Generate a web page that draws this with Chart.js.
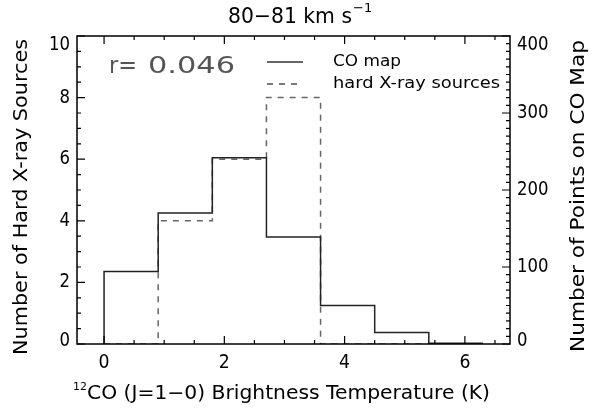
<!DOCTYPE html>
<html>
<head>
<meta charset="utf-8">
<script src="https://cdn.jsdelivr.net/npm/chart.js@4.4.1/dist/chart.umd.min.js"></script>
<style>
  html, body { margin: 0; padding: 0; background: #fff; }
  #wrap { width: 609px; height: 415px; }
</style>
</head>
<body>
<div id="wrap"><canvas id="hist-chart" width="609" height="415"></canvas></div>
<script>
// histogram bins (K) and counts
const binEdges = [0, 0.9, 1.8, 2.7, 3.6, 4.5, 5.4, 6.3];
const coCounts = [94, 170, 242, 139, 50, 15, 1];      // right axis
const xrayCounts = [0, 4, 6, 8, 0, 0, 0];            // left axis
const xTicks = [0, 2, 4, 6];
const yTicks = [0, 2, 4, 6, 8, 10];
const y1Ticks = [0, 100, 200, 300, 400];
const corrLabel = 'r=';
const corrValue = '0.046';

const FONT = '"DejaVu Sans", sans-serif';

// turn bin counts into step points (psym=10 style)
function stepPoints(edges, counts) {
  const pts = [{ x: edges[0], y: 0 }];
  counts.forEach((c, i) => pts.push({ x: edges[i], y: c }));
  pts.push({ x: edges[edges.length - 1], y: counts[counts.length - 1] });
  return pts;
}

function setTicks(values) {
  return (scale) => { scale.ticks = values.map((v) => ({ value: v })); };
}

// draw text stretched to a given width (hershey font is wide)
function fitText(ctx, text, x, y, width, align) {
  const w = ctx.measureText(text).width;
  const sx = width / w;
  ctx.save();
  ctx.textAlign = 'left';
  let left = x;
  if (align === 'center') left = x - width / 2;
  ctx.translate(left, y);
  ctx.scale(sx, 1);
  ctx.fillText(text, 0, 0);
  ctx.restore();
}

const frameAndText = {
  id: 'frameAndText',
  afterDatasetsDraw(chart) {
    const { ctx, chartArea: a, scales } = chart;
    const x = scales.x, y = scales.y, y1 = scales.y1;
    ctx.save();
    ctx.strokeStyle = '#000';
    ctx.lineWidth = 1.5;
    ctx.strokeRect(a.left, a.top, a.right - a.left, a.bottom - a.top);

    ctx.lineWidth = 1.2;
    ctx.beginPath();
    // bottom + top ticks
    for (let v = 0; v <= 6.75; v += 0.5) {
      const px = x.getPixelForValue(v);
      const len = (Math.abs(v % 2) < 1e-6) ? 8 : 4;
      ctx.moveTo(px, a.bottom); ctx.lineTo(px, a.bottom - len);
      ctx.moveTo(px, a.top); ctx.lineTo(px, a.top + len);
    }
    // left ticks
    for (let v = 0; v <= 10; v += 0.5) {
      const py = y.getPixelForValue(v);
      const len = (v % 2 === 0) ? 8 : 4;
      ctx.moveTo(a.left, py); ctx.lineTo(a.left + len, py);
    }
    // right ticks
    for (let v = 0; v <= 400; v += 10) {
      const py = y1.getPixelForValue(v);
      const len = (v % 100 === 0) ? 8 : 4;
      ctx.moveTo(a.right, py); ctx.lineTo(a.right - len, py);
    }
    ctx.stroke();

    ctx.fillStyle = '#000';
    ctx.textBaseline = 'middle';
    ctx.font = '19px ' + FONT;
    // y tick labels, end labels pulled inside like IDL does
    const clampY = (p) => Math.min(Math.max(p, a.top + 9), a.bottom - 3);
    yTicks.forEach((v) => {
      const w = 10.5 * String(v).length;
      fitText(ctx, String(v), a.left - 7 - w, clampY(y.getPixelForValue(v)), w, 'left');
    });
    y1Ticks.forEach((v) => {
      fitText(ctx, String(v), a.right + 7, clampY(y1.getPixelForValue(v)), 10.5 * String(v).length, 'left');
    });
    xTicks.forEach((v) => {
      fitText(ctx, String(v), x.getPixelForValue(v), a.bottom + 19, 11, 'center');
    });

    // title with superscript
    ctx.textBaseline = 'alphabetic';
    ctx.font = '21px ' + FONT;
    fitText(ctx, '80\u221281 km s', 228, 23, 124, 'left');
    ctx.font = '13px ' + FONT;
    ctx.fillText('\u22121', 353, 12);

    // x axis title
    ctx.font = '11px ' + FONT;
    ctx.fillText('12', 73, 390);
    ctx.font = '19px ' + FONT;
    fitText(ctx, 'CO (J=1\u22120) Brightness Temperature (K)', 87, 399, 403, 'left');

    // y axis titles, both read bottom-to-top
    ctx.textBaseline = 'middle';
    ctx.font = '19px ' + FONT;
    ctx.save();
    ctx.translate(22, 197);
    ctx.rotate(-Math.PI / 2);
    fitText(ctx, 'Number of Hard X-ray Sources', 0, 0, 316, 'center');
    ctx.restore();
    ctx.save();
    ctx.translate(579, 196);
    ctx.rotate(-Math.PI / 2);
    fitText(ctx, 'Number of Points on CO Map', 0, 0, 312, 'center');
    ctx.restore();

    // correlation
    ctx.fillStyle = '#555';
    ctx.font = '23px ' + FONT;
    fitText(ctx, corrLabel, 109, 67, 28, 'left');
    fitText(ctx, corrValue, 148, 67, 87, 'left');

    // legend
    ctx.fillStyle = '#000';
    ctx.font = '16px ' + FONT;
    fitText(ctx, 'CO map', 333, 62, 68, 'left');
    fitText(ctx, 'hard X-ray sources', 333, 84, 167, 'left');
    ctx.strokeStyle = '#333';
    ctx.lineWidth = 1.3;
    ctx.beginPath();
    ctx.moveTo(267, 62); ctx.lineTo(303, 62);
    ctx.stroke();
    ctx.setLineDash([6, 6]);
    ctx.beginPath();
    ctx.moveTo(267, 84); ctx.lineTo(303, 84);
    ctx.stroke();
    ctx.restore();
  }
};

const ctx = document.getElementById('hist-chart').getContext('2d');
new Chart(ctx, {
  type: 'line',
  data: {
    datasets: [
      {
        label: 'CO map',
        data: stepPoints(binEdges, coCounts),
        yAxisID: 'y1',
        stepped: 'before',
        borderColor: '#222',
        borderWidth: 1.5,
        pointRadius: 0,
        fill: false,
      },
      {
        label: 'hard X-ray sources',
        data: stepPoints(binEdges, xrayCounts),
        yAxisID: 'y',
        stepped: 'before',
        borderColor: '#666',
        borderWidth: 1.5,
        borderDash: [6, 6],
        pointRadius: 0,
        fill: false,
      },
    ],
  },
  options: {
    responsive: false,
    animation: false,
    layout: { padding: { top: 36, left: 0, right: 0, bottom: 0 } },
    plugins: { legend: { display: false }, tooltip: { enabled: false } },
    scales: {
      x: {
        type: 'linear',
        min: -0.45,
        max: 6.75,
        afterBuildTicks: setTicks(xTicks),
        afterFit: (s) => { s.height = 71; },
        grid: { display: false, drawTicks: false },
        border: { display: false },
        ticks: { display: false },
      },
      y: {
        position: 'left',
        min: 0,
        max: 10,
        afterBuildTicks: setTicks(yTicks),
        afterFit: (s) => { s.width = 77; },
        grid: { display: false, drawTicks: false },
        border: { display: false },
        ticks: { display: false },
      },
      y1: {
        position: 'right',
        min: 0,
        max: 400,
        afterBuildTicks: setTicks(y1Ticks),
        afterFit: (s) => { s.width = 99; },
        grid: { display: false, drawTicks: false },
        border: { display: false },
        ticks: { display: false },
      },
    },
  },
  plugins: [frameAndText],
});
</script>
</body>
</html>
